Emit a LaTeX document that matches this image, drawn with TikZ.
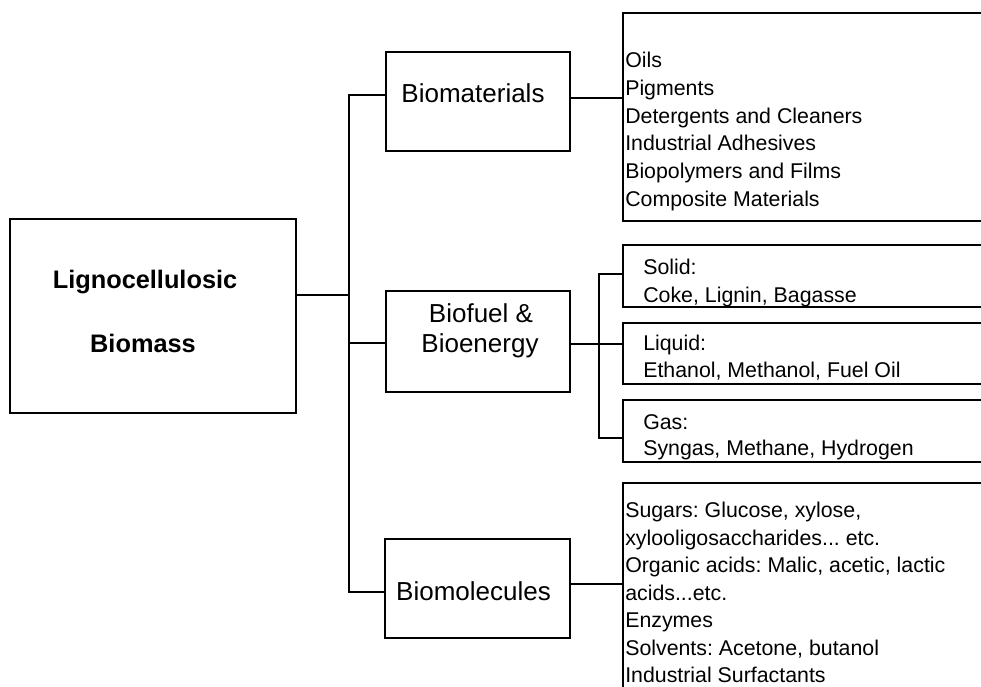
\documentclass[tikz,border=0pt]{standalone}
\usepackage{fontspec}
\setmainfont{Liberation Sans}
\frenchspacing
\begin{document}
\begin{tikzpicture}[x=0.75pt,y=-0.75pt,
  box/.style={draw=black, line width=1.2pt, rectangle, inner sep=0pt},
  conn/.style={draw=black, line width=1.2pt},
  big/.style={font=\fontsize{19.5pt}{23pt}\selectfont, inner sep=0pt, anchor=base},
  bigb/.style={font=\fontsize{19pt}{23pt}\selectfont\bfseries, inner sep=0pt, anchor=base},
  lst/.style={font=\fontsize{16pt}{19pt}\selectfont, inner sep=0pt, anchor=base west}]
\useasboundingbox (0,0) rectangle (981,686);
\clip (0,0) rectangle (981,686);
\fill[white] (0,0) rectangle (981,686);

% boxes
\node[box, minimum width=214.5pt, minimum height=145.5pt] (main) at (153,316) {};
\node[box, minimum width=138pt, minimum height=74.25pt] (bmat) at (478,101.5) {};
\node[box, minimum width=138pt, minimum height=75.75pt] (bfuel) at (478,341.5) {};
\node[box, minimum width=138.75pt, minimum height=74.25pt] (bmol) at (477.5,588.5) {};
\node[box, minimum width=282.75pt, minimum height=156pt] (matlist) at (811.5,117) {};
\node[box, minimum width=282.75pt, minimum height=46.5pt] (solid) at (811.5,276) {};
\node[box, minimum width=282.75pt, minimum height=45.75pt] (liquid) at (811.5,353.5) {};
\node[box, minimum width=282.75pt, minimum height=46.5pt] (gas) at (811.5,431) {};
\node[box, minimum width=282.75pt, minimum height=177.75pt] (mollist) at (811.5,601.5) {};

% texts
\node[bigb] (t1) at (145,288) {Lignocellulosic};
\node[bigb] (t2) at (143,352) {Biomass};
\node[big] (t3) at (473,102.5) {Biomaterials};
\node[big] (t4) at (481,322.5) {Biofuel \&};
\node[big] (t5) at (480,352.5) {Bioenergy};
\node[big] (t6) at (473.5,600.5) {Biomolecules};

\node[lst] (m1) at (625,67.5) {Oils};
\node[lst] (m2) at (625,95.3) {Pigments};
\node[lst] (m3) at (625,123.1) {Detergents and Cleaners};
\node[lst] (m4) at (625,150.9) {Industrial Adhesives};
\node[lst] (m5) at (625,178.7) {Biopolymers and Films};
\node[lst] (m6) at (625,206.5) {Composite Materials};

\node[lst] (s1) at (643,274.5) {Solid:};
\node[lst] (s2) at (643,302.5) {Coke, Lignin, Bagasse};
\node[lst] (l1) at (643,350.5) {Liquid:};
\node[lst] (l2) at (643,377.5) {Ethanol, Methanol, Fuel Oil};
\node[lst] (g1) at (643,429.5) {Gas:};
\node[lst] (g2) at (643,455.5) {Syngas, Methane, Hydrogen};

\node[lst] (b1) at (625,517.5) {Sugars: Glucose, xylose,};
\node[lst] (b2) at (625,545) {xylooligosaccharides... etc.};
\node[lst] (b3) at (625,572.5) {Organic acids: Malic, acetic, lactic};
\node[lst] (b4) at (625,600) {acids...etc.};
\node[lst] (b5) at (625,627.5) {Enzymes};
\node[lst] (b6) at (625,655) {Solvents: Acetone, butanol};
\node[lst] (b7) at (625,682.5) {Industrial Surfactants};

% junction coordinates
\coordinate (j0) at (349,295);
\coordinate (jtop) at (349,95);
\coordinate (jmid) at (349,343);
\coordinate (jbot) at (349,592);
\coordinate (k1) at (597,98);
\coordinate (f0) at (599,344);
\coordinate (ftop) at (599,274);
\coordinate (fbot) at (599,438);
\coordinate (k3) at (597,584);

% connectors
\draw[conn] (main.east |- j0) -- (j0);
\draw[conn] (jtop -| bmat.west) -- (jtop) -- (jbot) -- (jbot -| bmol.west);
\draw[conn] (jmid) -- (jmid -| bfuel.west);
\draw[conn] (k1 -| bmat.east) -- (k1 -| matlist.west);
\draw[conn] (f0 -| bfuel.east) -- (f0) -- (f0 -| liquid.west);
\draw[conn] (ftop -| solid.west) -- (ftop) -- (fbot) -- (fbot -| gas.west);
\draw[conn] (k3 -| bmol.east) -- (k3 -| mollist.west);
\end{tikzpicture}
\end{document}
